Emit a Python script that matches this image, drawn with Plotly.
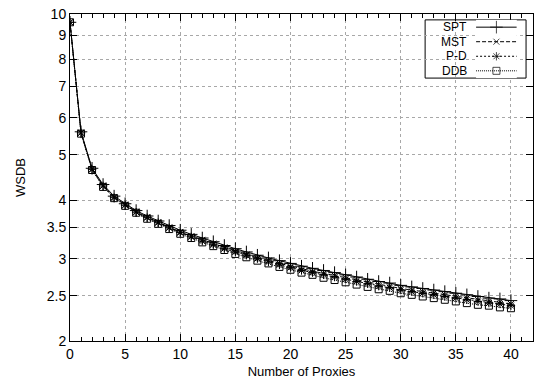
import plotly.graph_objects as go

x = list(range(0, 41))

spt = [9.6, 5.6, 4.68, 4.32, 4.08, 3.93, 3.80, 3.70, 3.61, 3.53, 3.45, 3.38, 3.32, 3.26, 3.20,
       3.15, 3.10, 3.05, 3.01, 2.97, 2.93, 2.89, 2.86, 2.83, 2.80, 2.77, 2.74, 2.71, 2.68, 2.66,
       2.63, 2.61, 2.59, 2.57, 2.55, 2.53, 2.51, 2.49, 2.47, 2.46, 2.44]
mst = [9.6, 5.58, 4.66, 4.30, 4.06, 3.91, 3.78, 3.68, 3.59, 3.50, 3.42, 3.35, 3.29, 3.23, 3.17,
       3.11, 3.06, 3.01, 2.97, 2.93, 2.89, 2.85, 2.82, 2.79, 2.76, 2.73, 2.70, 2.67, 2.64, 2.62,
       2.59, 2.57, 2.55, 2.53, 2.51, 2.49, 2.47, 2.45, 2.43, 2.42, 2.40]
pd_ = [9.6, 5.57, 4.65, 4.29, 4.05, 3.90, 3.77, 3.67, 3.58, 3.49, 3.41, 3.34, 3.27, 3.21, 3.15,
       3.10, 3.05, 3.00, 2.95, 2.91, 2.87, 2.83, 2.80, 2.77, 2.74, 2.71, 2.68, 2.65, 2.62, 2.60,
       2.57, 2.55, 2.53, 2.51, 2.49, 2.47, 2.45, 2.43, 2.41, 2.40, 2.38]
ddb = [9.6, 5.55, 4.64, 4.27, 4.04, 3.89, 3.76, 3.65, 3.56, 3.47, 3.39, 3.32, 3.25, 3.19, 3.13,
       3.07, 3.02, 2.97, 2.93, 2.88, 2.84, 2.80, 2.77, 2.73, 2.70, 2.67, 2.64, 2.61, 2.58, 2.56,
       2.53, 2.51, 2.49, 2.47, 2.45, 2.43, 2.41, 2.39, 2.38, 2.36, 2.35]

names = ["SPT", "MST", "P-D", "DDB"]
series = [spt, mst, pd_, ddb]
symbols = ["cross-thin", "x-thin", "asterisk", "square-open"]
dashes = ["solid", "4px,2px", "2px,2px", "1px,1px"]
sizes = [9, 6, 7, 7]

ytick_vals = [2, 2.5, 3, 3.5, 4, 5, 6, 7, 8, 9, 10]
ytick_text = ["2", "2.5", "3", "3.5", "4", "5", "6", "7", "8", "9", "10"]
xtick_vals = [0, 5, 10, 15, 20, 25, 30, 35, 40]

FONT = "Liberation Sans, Arial, sans-serif"

fig = go.Figure()
for name, ys, sym, dsh, sz in zip(names, series, symbols, dashes, sizes):
    fig.add_trace(go.Scatter(
        x=x, y=ys, mode="lines+markers", name=name, showlegend=False,
        line=dict(color="black", width=1, dash=dsh),
        marker=dict(symbol=sym, size=sz, color="black",
                    line=dict(color="black", width=1)),
    ))

# custom gnuplot-style key (text left, sample right)
row_y = [0.9595, 0.915, 0.871, 0.8265]
for i, (name, sym, dsh, sz) in enumerate(zip(names, symbols, dashes, sizes)):
    row = i + 1
    fig.add_trace(go.Scatter(
        x=[0, 0.5, 1], y=[row, row, row], mode="lines+markers", showlegend=False,
        xaxis="x2", yaxis="y2", hoverinfo="skip",
        line=dict(color="black", width=1, dash=dsh),
        marker=dict(symbol=sym, size=[0, sz, 0], color="black",
                    line=dict(color="black", width=1)),
    ))
    fig.add_annotation(x=0.859, y=row_y[i], xref="paper", yref="paper", text=name,
                       showarrow=False, xanchor="right", yanchor="middle",
                       font=dict(family=FONT, size=12, color="black"),
                       borderpad=0)

fig.add_shape(type="rect", xref="paper", yref="paper",
              x0=0.767, x1=0.985, y0=0.804, y1=0.982,
              line=dict(color="black", width=1), fillcolor="white", layer="below")

fig.update_layout(
    width=534, height=385,
    margin=dict(l=70, r=1, t=14, b=44),
    paper_bgcolor="white", plot_bgcolor="white",
    font=dict(family=FONT, size=14, color="black"),
    xaxis=dict(
        range=[0, 42], tickvals=xtick_vals, ticks="inside", ticklen=7,
        tickcolor="black", showline=True, linecolor="black", linewidth=1,
        mirror="allticks", showgrid=True, gridcolor="#a8a8a8", griddash="dot",
        gridwidth=1, zeroline=False,
        minor=dict(dtick=1, ticks="inside", ticklen=4, tickcolor="black", showgrid=False),
        title=dict(text="Number of Proxies", font=dict(size=13), standoff=6),
        tickfont=dict(size=14),
    ),
    yaxis=dict(
        type="log", range=[0.30103, 1.0], tickvals=ytick_vals, ticktext=ytick_text,
        ticks="inside", ticklen=7, tickcolor="black", showline=True,
        linecolor="black", linewidth=1, mirror="allticks", showgrid=True,
        gridcolor="#a8a8a8", griddash="dot", gridwidth=1, zeroline=False,
        title=dict(text="WSDB", font=dict(size=13), standoff=18),
        tickfont=dict(size=14),
    ),
    xaxis2=dict(domain=[0.877, 0.965], range=[0, 1], visible=False,
                anchor="y2", fixedrange=True),
    yaxis2=dict(domain=[0.804, 0.982], range=[4.5, 0.5], visible=False,
                anchor="x2", fixedrange=True),
)

fig.write_html("out.html")
